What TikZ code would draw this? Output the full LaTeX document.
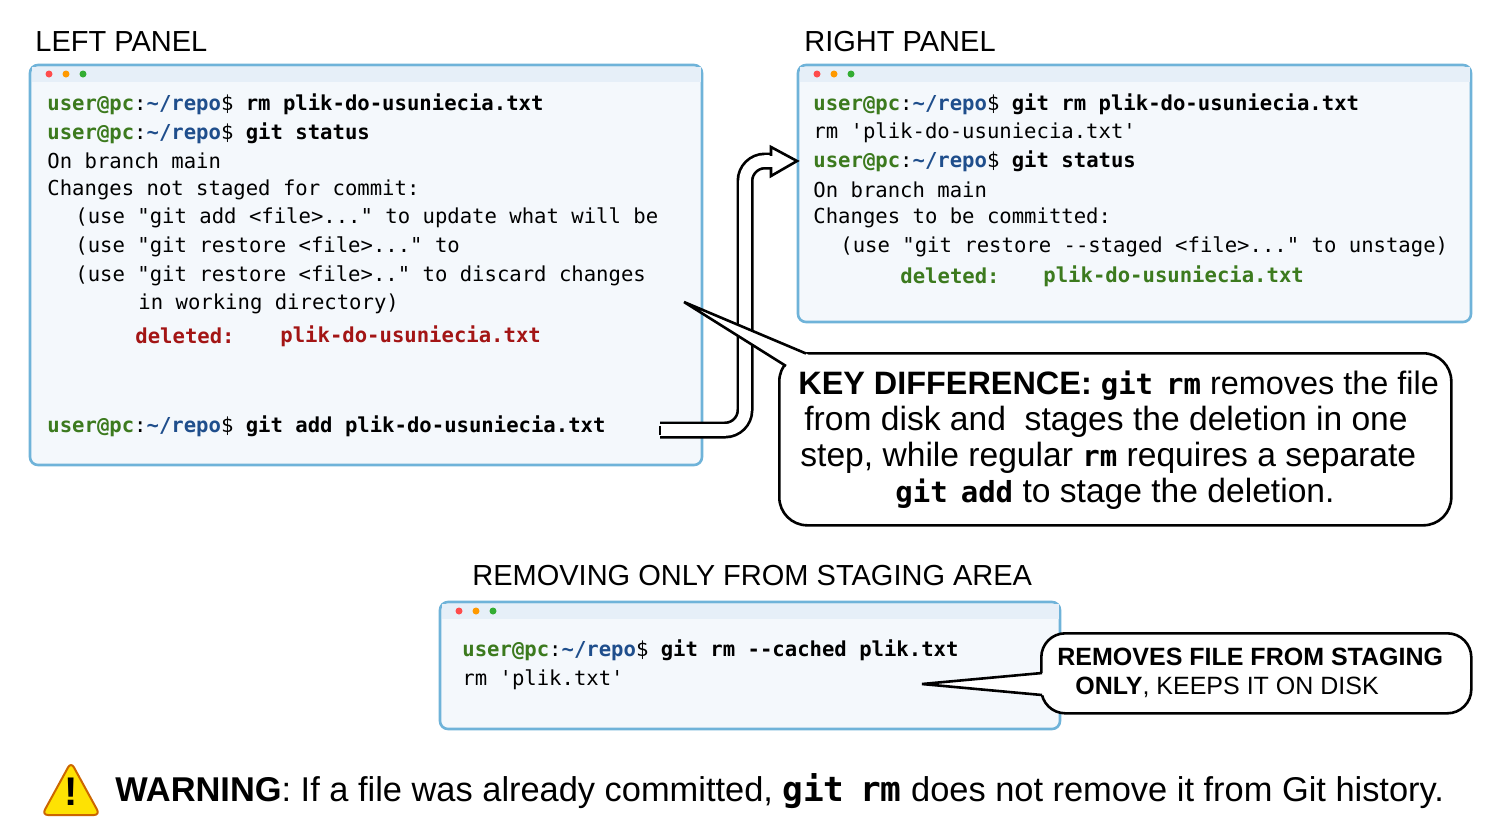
\documentclass[tikz,border=0pt]{standalone}
\usepackage{fontspec}
\setmainfont{Liberation Sans}
\newfontfamily\mono{DejaVu Sans Mono}
\begin{document}
\definecolor{pg}{HTML}{3C7A1E}
\definecolor{pb}{HTML}{1F4E8C}
\definecolor{dr}{HTML}{A31515}
\definecolor{brd}{HTML}{6FB3D9}
\definecolor{bg}{HTML}{F4F8FC}
\definecolor{bar}{HTML}{E6EFF8}
\begin{tikzpicture}[x=0.5pt,y=-0.5pt,
  term/.style={draw=brd,line width=1.3pt,fill=bg,rounded corners=4pt},
  tl/.style={anchor=west,inner sep=0pt,font=\mono\fontsize{10.3}{12}\selectfont},
  hd/.style={anchor=west,inner sep=0pt,font=\fontsize{14.5}{16}\selectfont},
  call/.style={draw=black,line width=1.3pt,fill=white,rounded corners=14pt}]
\newcommand\pr{\textcolor{pg}{\textbf{user@pc}}:\textcolor{pb}{\textbf{\~{}/repo}}\$ }
\newcommand\tdots[2]{\fill[red!70!white] (#1,#2) circle (3.5);\fill[orange!80!yellow] (#1+17,#2) circle (3.5);\fill[green!60!black!80] (#1+34,#2) circle (3.5);}
\newcommand\msp{\hspace{0.45em}}
\newcommand\cm[1]{{\mono\bfseries\fontsize{14.5}{18}\selectfont #1}}
\useasboundingbox (0,0) rectangle (1500,837);
\fill[white] (0,0) rectangle (1500,837);
% headings
\node[hd] (h1) at (35,42) {LEFT PANEL};
\node[hd] (h2) at (804,42) {RIGHT PANEL};
\node[hd] (h3) at (472,576) {REMOVING ONLY FROM STAGING AREA};
% left panel
\draw[term] (30,65) rectangle (702,465);
\fill[bar] (31.5,66.5) rectangle (700.5,82);
\tdots{49}{74}
\node[tl] (l1) at (47,104) {\pr\textbf{rm plik-do-usuniecia.txt}};
\node[tl] (l2) at (47,133) {\pr\textbf{git status}};
\node[tl] (l3) at (47,161) {On branch main};
\node[tl] (l4) at (47,190) {Changes not staged for commit:};
\node[tl] (l5) at (75,218) {(use "git add <file>..." to update what will be};
\node[tl] (l6) at (75,247) {(use "git restore <file>..." to};
\node[tl] (l7) at (75,276) {(use "git restore <file>.." to discard changes};
\node[tl] (l8) at (138,304) {in working directory)};
\node[tl,text=dr] (l9) at (135,336) {\textbf{deleted:}};
\node[tl,text=dr] (l10) at (280,336) {\textbf{plik-do-usuniecia.txt}};
\node[tl] (l11) at (47,426) {\pr\textbf{git add plik-do-usuniecia.txt}};
% right panel
\draw[term] (798,65) rectangle (1471,322);
\fill[bar] (799.5,66.5) rectangle (1469.5,82);
\tdots{817}{74}
\node[tl] (r1) at (813,104) {\pr\textbf{git rm plik-do-usuniecia.txt}};
\node[tl] (r2) at (813,133) {rm 'plik-do-usuniecia.txt'};
\node[tl] (r3) at (813,161) {\pr\textbf{git status}};
\node[tl] (r4) at (813,190) {On branch main};
\node[tl] (r5) at (813,218) {Changes to be committed:};
\node[tl] (r6) at (840,247) {(use "git restore --staged <file>..." to unstage)};
\node[tl,text=pg] (r7) at (900,276) {\textbf{deleted:}};
\node[tl,text=pg] (r8) at (1043,276) {\textbf{plik-do-usuniecia.txt}};
% arrow
\coordinate (a0) at (660,430);
\coordinate (a1) at (774,161);
\draw[line width=8.5pt,rounded corners=10pt] (a0) -- (745,430) -- (745,161) -- (a1);
\draw[line width=5.8pt,white,rounded corners=10pt] (a0) -- (745,430) -- (745,161) -- (a1);
\draw[line width=1.3pt] (660,425.5) -- (660,434.5);
\draw[line width=1.3pt,fill=white,line join=miter] (771,147) -- (797,161) -- (771,176) -- cycle;
\fill[white] (768,155.5) rectangle (773,166.5);
% callout 1
\node[call,minimum width=336pt,minimum height=86pt,anchor=north west,inner sep=0pt] (c1) at (778,352) {};
\fill[white] (806,353.5) -- (684,302) -- (786,366) -- (800,368) -- (812,357) -- cycle;
\draw[line width=1.3pt] (806,353.5) -- (684,302) -- (786,366);
\begin{scope}[every node/.style={anchor=west,inner sep=0pt,font=\fontsize{16.8}{18}\selectfont}]
\node[font=\fontsize{16.2}{18}\selectfont] (k1) at (798,386) {\textbf{KEY DIFFERENCE:} \cm{git\msp rm} removes the file};
\node (k2) at (804,422) {from disk and\ \ stages the deletion in one};
\node (k3) at (800,458) {step, while regular \cm{rm} requires a separate};
\node (k4) at (895,494) {\cm{git\msp add} to stage the deletion.};
\end{scope}
% bottom terminal
\draw[term] (440,602) rectangle (1060,729);
\fill[bar] (441.5,603.5) rectangle (1058.5,619);
\tdots{459}{611}
\node[tl] (b1) at (462,650) {\pr\textbf{git rm --cached plik.txt}};
\node[tl] (b2) at (462,680) {rm 'plik.txt'};
% callout 2
\node[call,rounded corners=12pt,minimum width=215pt,minimum height=40pt,anchor=north west,inner sep=0pt] (c2) at (1040,632) {};
\fill[white] (1042,673) -- (922,684) -- (1042,695) -- (1046,695) -- (1046,673) -- cycle;
\draw[line width=1.3pt] (1042,673) -- (922,684) -- (1042,695);
\node[anchor=west,inner sep=0pt,font=\fontsize{12.5}{14}\selectfont] (s1) at (1057,657) {\textbf{REMOVES FILE FROM STAGING}};
\node[anchor=west,inner sep=0pt,font=\fontsize{12.5}{14}\selectfont] (s2) at (1075,687) {\textbf{ONLY}, KEEPS IT ON DISK};
% warning
\draw[fill=yellow!85!orange,draw=orange!80!black,line width=1pt,line join=round,rounded corners=3pt] (71,762) -- (100,815) -- (42,815) -- cycle;
\node[inner sep=0pt,font=\fontsize{20}{20}\selectfont\bfseries] (wi) at (71,792) {!};
\node[anchor=west,inner sep=0pt,font=\fontsize{17.2}{20}\selectfont] (w) at (115,791) {\textbf{WARNING}: If a file was already committed, {\mono\bfseries git\msp rm} does not remove it from Git history.};
\end{tikzpicture}
\end{document}
